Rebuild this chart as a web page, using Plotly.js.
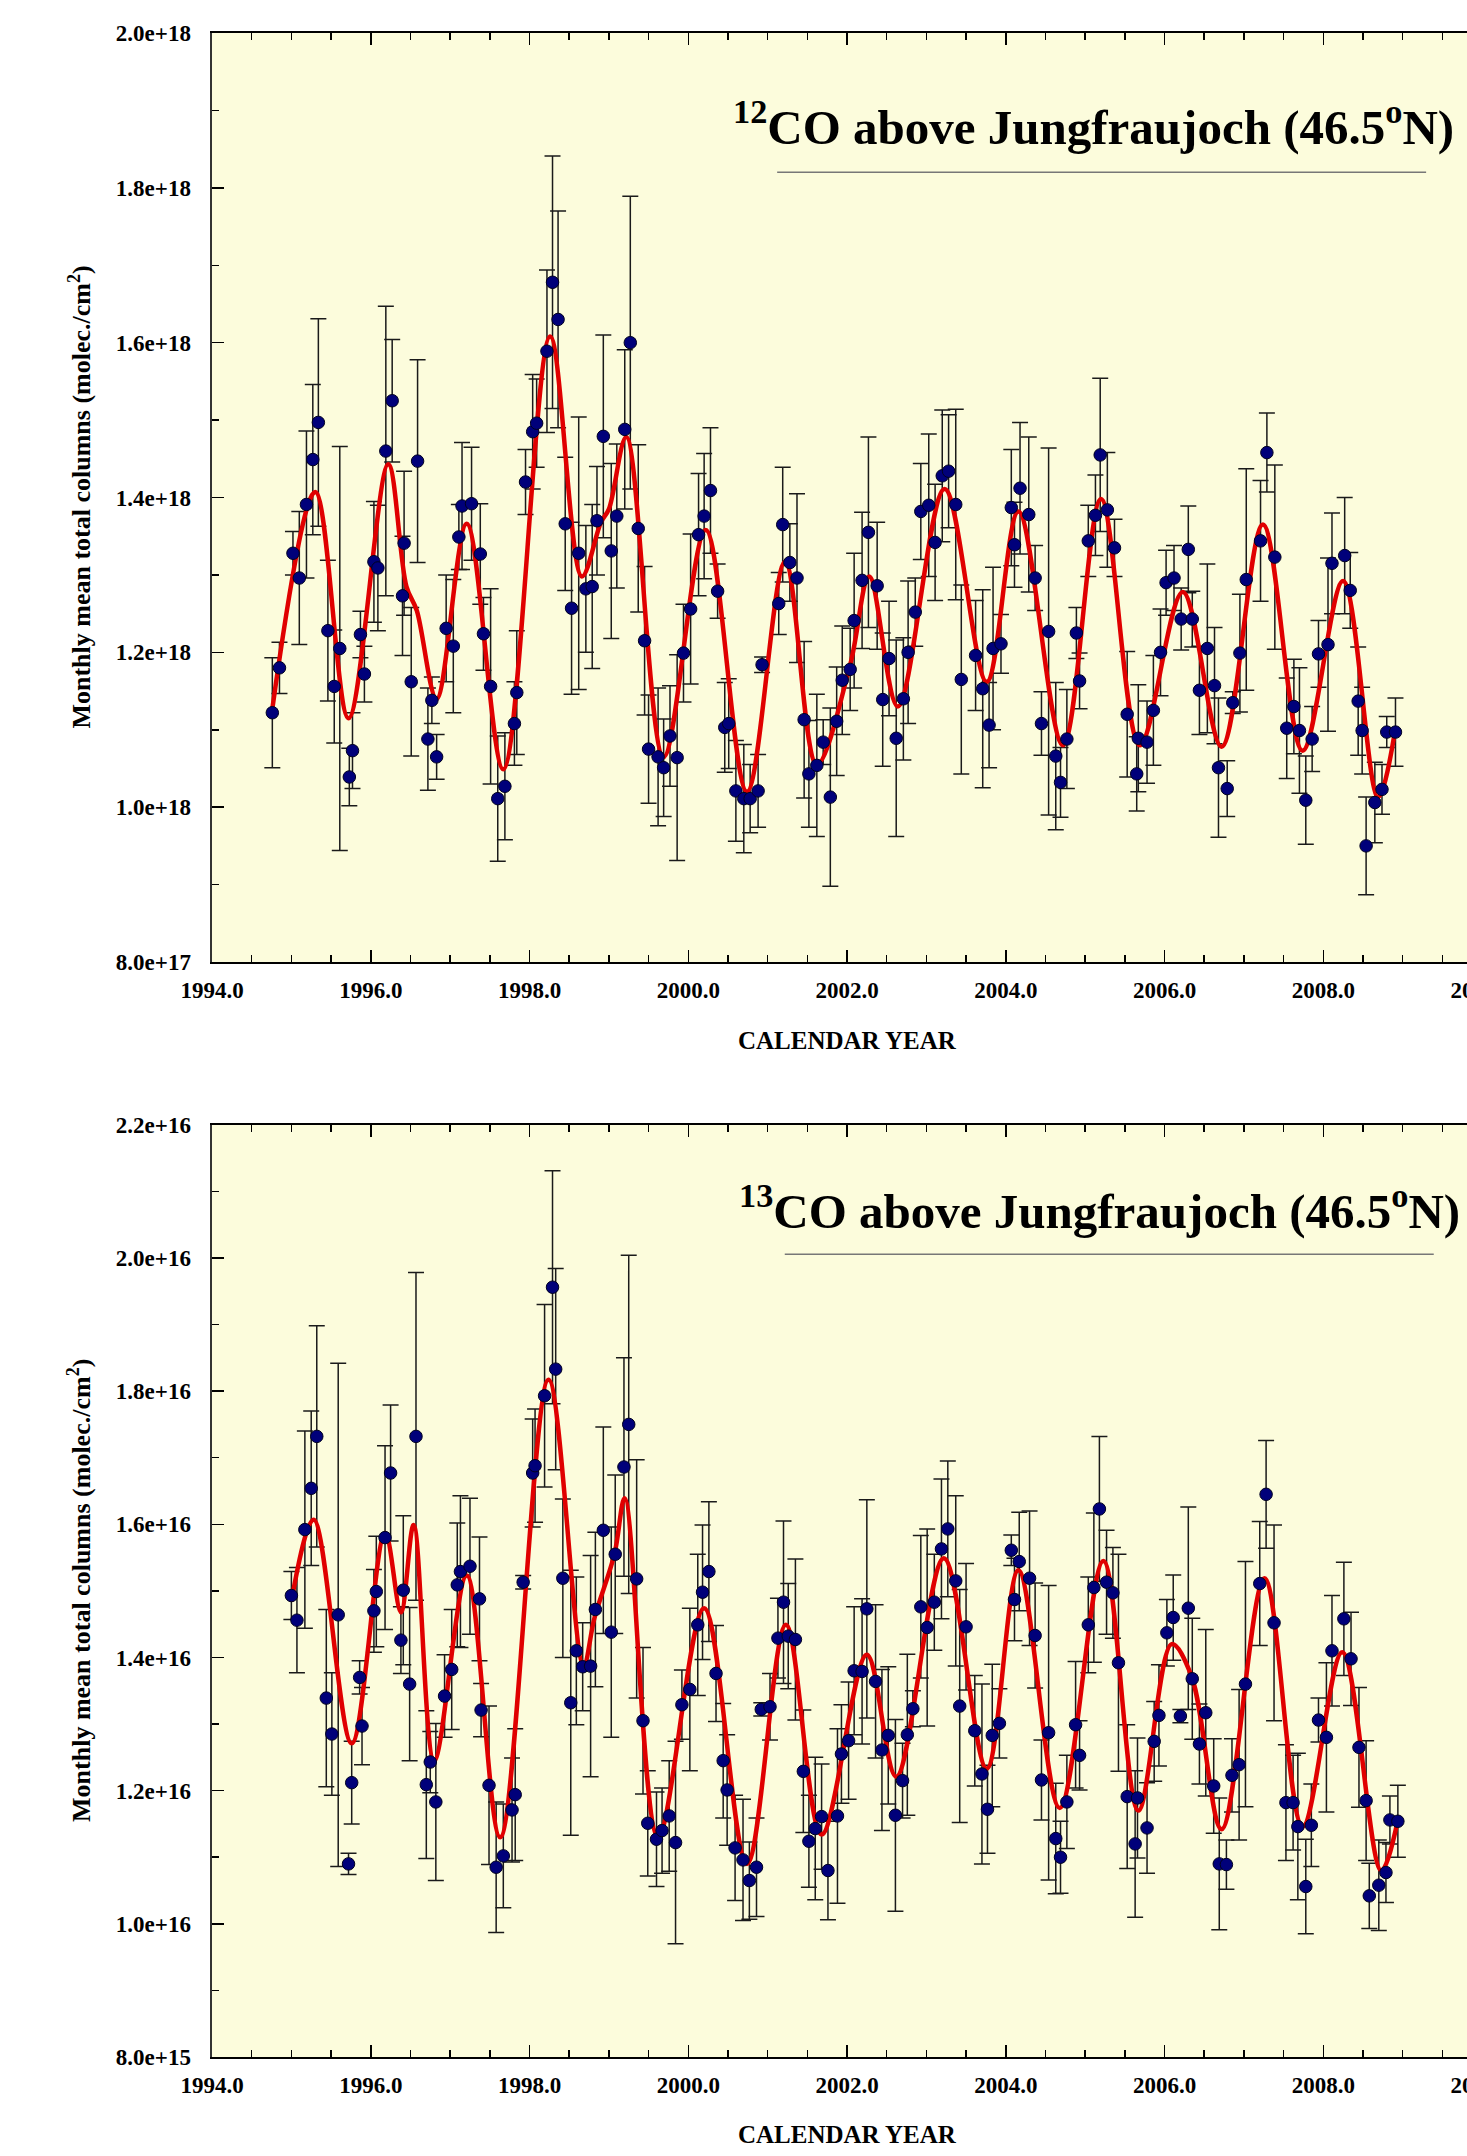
<!DOCTYPE html>
<html><head><meta charset="utf-8">
<script src="https://cdn.plot.ly/plotly-3.0.1.min.js"></script>
<style>html,body{margin:0;padding:0;overflow:hidden;background:#fff;width:1467px;height:2156px}#chart{width:1600px;height:2156px}</style>
</head><body><div id="chart"></div><script>
// ---- 12CO monthly means (units of 1e18 molec/cm2) ----
const co12_year = [1994.76,1994.85,1995.02,1995.10,1995.19,1995.27,1995.34,1995.46,1995.54,1995.61,
1995.73,1995.77,1995.87,1995.92,1996.04,1996.09,1996.19,1996.27,1996.40,1996.42,
1996.51,1996.59,1996.72,1996.77,1996.83,1996.95,1997.04,1997.11,1997.15,1997.27,
1997.38,1997.42,1997.51,1997.60,1997.69,1997.81,1997.84,1997.95,1998.04,1998.09,
1998.22,1998.29,1998.36,1998.45,1998.53,1998.62,1998.71,1998.79,1998.85,1998.93,
1999.03,1999.10,1999.20,1999.27,1999.37,1999.45,1999.50,1999.62,1999.69,1999.77,
1999.86,1999.94,2000.03,2000.13,2000.20,2000.28,2000.37,2000.46,2000.51,2000.60,
2000.70,2000.78,2000.88,2000.93,2001.14,2001.19,2001.28,2001.37,2001.46,2001.52,
2001.62,2001.70,2001.79,2001.87,2001.94,2002.04,2002.09,2002.19,2002.27,2002.38,
2002.45,2002.53,2002.62,2002.71,2002.77,2002.86,2002.93,2003.03,2003.11,2003.20,
2003.28,2003.37,2003.44,2003.62,2003.71,2003.79,2003.84,2003.94,2004.07,2004.11,
2004.18,2004.29,2004.37,2004.45,2004.54,2004.63,2004.69,2004.77,2004.89,2004.93,
2005.04,2005.13,2005.19,2005.28,2005.37,2005.53,2005.65,2005.67,2005.78,2005.86,
2005.95,2006.02,2006.12,2006.21,2006.30,2006.35,2006.44,2006.54,2006.63,2006.68,
2006.79,2006.86,2006.95,2007.03,2007.21,2007.29,2007.39,2007.54,2007.63,2007.70,
2007.78,2007.86,2007.94,2008.06,2008.11,2008.27,2008.34,2008.44,2008.49,2008.54,
2008.65,2008.74,2008.80,2008.91];
const co12_value = [1.122,1.180,1.328,1.296,1.391,1.449,1.497,1.228,1.156,1.205,
1.039,1.073,1.223,1.172,1.317,1.309,1.460,1.525,1.273,1.341,
1.162,1.447,1.088,1.138,1.065,1.231,1.208,1.349,1.389,1.392,
1.327,1.224,1.156,1.011,1.027,1.108,1.148,1.420,1.485,1.496,
1.589,1.678,1.630,1.366,1.257,1.328,1.282,1.285,1.370,1.479,
1.331,1.376,1.488,1.600,1.360,1.215,1.075,1.065,1.051,1.092,
1.064,1.199,1.256,1.352,1.376,1.409,1.279,1.103,1.108,1.021,
1.011,1.011,1.021,1.184,1.263,1.365,1.316,1.296,1.113,1.043,
1.054,1.084,1.013,1.111,1.164,1.178,1.241,1.293,1.355,1.286,
1.139,1.192,1.089,1.140,1.200,1.252,1.382,1.390,1.342,1.428,
1.434,1.391,1.165,1.196,1.153,1.106,1.205,1.211,1.387,1.339,
1.412,1.378,1.296,1.108,1.227,1.066,1.032,1.088,1.225,1.163,
1.344,1.377,1.455,1.384,1.335,1.120,1.043,1.089,1.084,1.125,
1.200,1.290,1.296,1.243,1.333,1.243,1.151,1.205,1.157,1.051,
1.024,1.135,1.199,1.294,1.344,1.458,1.323,1.102,1.130,1.099,
1.009,1.088,1.198,1.210,1.315,1.325,1.280,1.137,1.099,0.950,
1.006,1.023,1.097,1.097];
const co12_error = [0.071,0.033,0.028,0.086,0.095,0.097,0.134,0.091,0.073,0.261,
0.037,0.049,0.030,0.036,0.078,0.081,0.187,0.079,0.077,0.093,
0.096,0.131,0.066,0.030,0.029,0.069,0.086,0.042,0.082,0.073,
0.065,0.047,0.126,0.081,0.069,0.054,0.080,0.042,0.074,0.057,
0.105,0.163,0.140,0.086,0.111,0.176,0.082,0.106,0.070,0.131,
0.113,0.093,0.103,0.189,0.108,0.096,0.070,0.089,0.063,0.065,
0.133,0.063,0.097,0.079,0.081,0.081,0.035,0.058,0.058,0.065,
0.070,0.044,0.047,0.010,0.040,0.074,0.050,0.109,0.101,0.069,
0.092,0.029,0.115,0.070,0.070,0.053,0.087,0.088,0.123,0.082,
0.086,0.074,0.127,0.079,0.092,0.044,0.062,0.092,0.075,0.085,
0.073,0.123,0.122,0.071,0.128,0.055,0.105,0.038,0.075,0.055,
0.085,0.100,0.042,0.041,0.237,0.095,0.045,0.064,0.033,0.036,
0.046,0.052,0.099,0.074,0.037,0.081,0.048,0.069,0.053,0.071,
0.056,0.042,0.042,0.040,0.056,0.036,0.057,0.109,0.075,0.090,
0.036,0.014,0.076,0.143,0.078,0.051,0.119,0.065,0.061,0.081,
0.057,0.042,0.043,0.112,0.065,0.075,0.049,0.070,0.056,0.063,
0.052,0.032,0.020,0.044];
// fitted curve, read at its turning points
const co12_fit_year = [1994.76,1995.30,1995.72,1996.22,1996.45,1996.58,1996.83,1997.21,1997.67,1998.26,1998.66,1998.90,1999.00,1999.22,1999.69,2000.22,2000.74,2001.22,2001.62,2002.04,2002.28,2002.64,2003.23,2003.76,2004.16,2004.72,2005.20,2005.69,2006.23,2006.72,2007.24,2007.74,2008.25,2008.69,2008.91];
const co12_fit_value = [1.127,1.407,1.115,1.443,1.285,1.254,1.140,1.366,1.049,1.608,1.298,1.368,1.385,1.478,1.065,1.358,1.020,1.317,1.055,1.184,1.298,1.130,1.411,1.162,1.382,1.080,1.398,1.080,1.278,1.078,1.365,1.073,1.292,1.013,1.102];

// ---- 13CO monthly means (units of 1e16 molec/cm2) ----
const co13_year = [1995.00,1995.07,1995.17,1995.25,1995.32,1995.44,1995.51,1995.59,1995.72,1995.76,
1995.86,1995.89,1996.04,1996.07,1996.18,1996.25,1996.38,1996.41,1996.49,1996.57,
1996.70,1996.75,1996.82,1996.93,1997.02,1997.09,1997.13,1997.25,1997.37,1997.39,
1997.49,1997.58,1997.67,1997.78,1997.82,1997.92,1998.04,1998.07,1998.19,1998.29,
1998.33,1998.42,1998.52,1998.59,1998.67,1998.77,1998.83,1998.93,1999.03,1999.08,
1999.19,1999.25,1999.35,1999.43,1999.49,1999.60,1999.67,1999.76,1999.84,1999.92,
2000.02,2000.12,2000.18,2000.26,2000.35,2000.44,2000.49,2000.59,2000.69,2000.77,
2000.86,2000.92,2001.03,2001.13,2001.20,2001.26,2001.35,2001.45,2001.52,2001.60,
2001.68,2001.76,2001.88,2001.93,2002.02,2002.09,2002.19,2002.25,2002.36,2002.44,
2002.52,2002.61,2002.70,2002.76,2002.83,2002.93,2003.01,2003.10,2003.19,2003.27,
2003.37,2003.42,2003.50,2003.61,2003.70,2003.77,2003.83,2003.92,2004.07,2004.11,
2004.17,2004.30,2004.37,2004.45,2004.54,2004.63,2004.69,2004.77,2004.88,2004.93,
2005.04,2005.11,2005.18,2005.27,2005.35,2005.42,2005.53,2005.63,2005.66,2005.78,
2005.87,2005.93,2006.03,2006.11,2006.20,2006.30,2006.35,2006.44,2006.52,2006.62,
2006.69,2006.78,2006.85,2006.94,2007.02,2007.20,2007.28,2007.38,2007.53,2007.62,
2007.68,2007.78,2007.85,2007.94,2008.04,2008.11,2008.26,2008.35,2008.45,2008.54,
2008.58,2008.70,2008.79,2008.84,2008.94];
const co13_value = [1.493,1.456,1.592,1.654,1.732,1.339,1.285,1.464,1.090,1.212,
1.370,1.297,1.470,1.499,1.580,1.677,1.426,1.501,1.360,1.732,
1.209,1.243,1.183,1.342,1.382,1.509,1.529,1.537,1.488,1.321,
1.208,1.085,1.102,1.171,1.194,1.513,1.677,1.688,1.793,1.956,
1.833,1.519,1.332,1.410,1.386,1.387,1.472,1.591,1.438,1.555,
1.686,1.750,1.518,1.305,1.151,1.127,1.140,1.162,1.122,1.329,
1.352,1.449,1.498,1.529,1.376,1.245,1.201,1.114,1.096,1.065,
1.085,1.322,1.326,1.429,1.483,1.432,1.427,1.229,1.124,1.143,
1.161,1.080,1.162,1.255,1.275,1.380,1.379,1.473,1.364,1.261,
1.283,1.163,1.215,1.284,1.323,1.476,1.445,1.483,1.563,1.593,
1.515,1.327,1.446,1.290,1.225,1.172,1.283,1.301,1.561,1.487,
1.544,1.519,1.433,1.216,1.287,1.128,1.100,1.183,1.299,1.253,
1.449,1.505,1.623,1.513,1.497,1.392,1.191,1.120,1.189,1.144,
1.274,1.313,1.437,1.460,1.312,1.474,1.368,1.270,1.317,1.207,
1.090,1.089,1.223,1.239,1.360,1.511,1.645,1.452,1.182,1.182,
1.146,1.056,1.148,1.306,1.280,1.410,1.458,1.398,1.265,1.185,
1.042,1.058,1.077,1.156,1.154];
const co13_error = [0.036,0.079,0.148,0.116,0.166,0.133,0.092,0.378,0.016,0.062,
0.025,0.058,0.062,0.083,0.138,0.102,0.050,0.112,0.115,0.246,
0.111,0.046,0.118,0.062,0.090,0.093,0.114,0.102,0.093,0.040,
0.119,0.098,0.078,0.078,0.099,0.010,0.081,0.085,0.137,0.175,
0.151,0.119,0.199,0.111,0.066,0.166,0.116,0.155,0.158,0.119,
0.164,0.254,0.179,0.110,0.079,0.071,0.064,0.083,0.152,0.052,
0.122,0.106,0.101,0.105,0.072,0.086,0.083,0.079,0.091,0.058,
0.074,0.010,0.050,0.060,0.122,0.079,0.121,0.092,0.069,0.107,
0.079,0.074,0.131,0.074,0.088,0.096,0.109,0.164,0.115,0.121,
0.103,0.144,0.056,0.121,0.027,0.107,0.148,0.072,0.105,0.102,
0.128,0.175,0.095,0.083,0.135,0.066,0.107,0.052,0.023,0.062,
0.074,0.101,0.079,0.060,0.221,0.083,0.054,0.070,0.095,0.052,
0.072,0.112,0.109,0.078,0.068,0.163,0.108,0.110,0.090,0.068,
0.060,0.076,0.050,0.064,0.010,0.152,0.091,0.060,0.125,0.071,
0.099,0.037,0.055,0.113,0.184,0.093,0.081,0.147,0.087,0.071,
0.110,0.071,0.062,0.033,0.112,0.083,0.085,0.070,0.090,0.090,
0.049,0.068,0.045,0.036,0.054];
const co13_fit_year = [1995.00,1995.28,1995.76,1996.18,1996.38,1996.54,1996.80,1997.21,1997.63,1998.24,1998.68,1998.82,1999.07,1999.20,1999.62,2000.20,2000.74,2001.23,2001.68,2002.25,2002.62,2003.22,2003.76,2004.16,2004.68,2005.23,2005.67,2006.09,2006.34,2006.72,2007.26,2007.74,2008.24,2008.73,2008.94];
const co13_fit_value = [1.484,1.607,1.271,1.587,1.468,1.599,1.245,1.523,1.130,1.817,1.388,1.460,1.555,1.639,1.130,1.474,1.090,1.449,1.134,1.404,1.221,1.549,1.233,1.531,1.174,1.545,1.170,1.420,1.372,1.142,1.519,1.146,1.408,1.080,1.156];

const SCALE12 = 1e18, SCALE13 = 1e16;
const scale = (arr, s) => arr.map(v => v * s);

const SERIF = 'Liberation Serif, Times New Roman, serif';
const MARK = {color: '#00007A', size: 12.5, line: {color: '#000020', width: 1}};
const ERR = {color: '#1a1a1a', thickness: 1.5, width: 8};
const FIT = {color: '#E00000', width: 4.5, shape: 'spline', smoothing: 1};

function group(year, val, err, fy, fv, s, xa, ya) {
  return [
    {type: 'scatter', mode: 'markers', x: year, y: scale(val, s), xaxis: xa, yaxis: ya,
     marker: {size: 12, opacity: 0}, hoverinfo: 'skip',
     error_y: Object.assign({type: 'data', array: scale(err, s), visible: true}, ERR)},
    {type: 'scatter', mode: 'lines', x: fy, y: scale(fv, s), xaxis: xa, yaxis: ya, line: FIT},
    {type: 'scatter', mode: 'markers', x: year, y: scale(val, s), xaxis: xa, yaxis: ya, marker: MARK}
  ];
}

const data = [].concat(
  group(co12_year, co12_value, co12_error, co12_fit_year, co12_fit_value, SCALE12, 'x', 'y'),
  group(co13_year, co13_value, co13_error, co13_fit_year, co13_fit_value, SCALE13, 'x2', 'y2')
);

const tickFont = {family: SERIF, size: 23, color: '#000', weight: 'bold'};
function xAxis(anchor) {
  return {anchor: anchor, domain: [0, 1], range: [1994, 2010], tick0: 1994, dtick: 2, tickformat: '.1f',
    ticks: 'inside', ticklen: 12, tickwidth: 1.5, tickcolor: '#000',
    minor: {dtick: 0.5, tick0: 1994, ticks: 'inside', ticklen: 7, tickwidth: 1.5, tickcolor: '#000', showgrid: false},
    showline: true, linecolor: '#000', linewidth: 2, mirror: 'ticks',
    showgrid: false, zeroline: false, tickfont: tickFont, ticklabelstandoff: 6};
}
function yAxis(anchor, domain, range, dtick) {
  return {anchor: anchor, domain: domain, range: range, dtick: dtick, tick0: range[0], tickformat: '.1e',
    ticks: 'inside', ticklen: 12, tickwidth: 1.5, tickcolor: '#000',
    minor: {dtick: dtick / 2, ticks: 'inside', ticklen: 7, tickwidth: 1.5, tickcolor: '#000', showgrid: false},
    showline: true, linecolor: '#333', linewidth: 2.5, mirror: 'ticks',
    showgrid: false, zeroline: false, tickfont: tickFont, ticklabelstandoff: 14};
}

const titleFont = {family: SERIF, size: 49, color: '#000', weight: 'bold'};
const axTitleFont = {family: SERIF, size: 25, color: '#000', weight: 'bold'};
const yTitleFont = {family: SERIF, size: 26, color: '#000', weight: 'bold'};
const ytitle = 'Monthly mean total columns (molec./cm<sup>2</sup>)';

const layout = {
  width: 1600, height: 2156,
  margin: {l: 212, r: 118, t: 33, b: 99},
  paper_bgcolor: '#ffffff', plot_bgcolor: '#FCFCDC',
  showlegend: false, hovermode: false,
  xaxis: xAxis('y'),
  yaxis: yAxis('x', [0.541, 1], [0.8e18, 2.0e18], 0.2e18),
  xaxis2: xAxis('y2'),
  yaxis2: yAxis('x2', [0, 0.4606], [0.8e16, 2.2e16], 0.2e16),
  annotations: [
    {xref: 'x domain', yref: 'y domain', x: 0.694, y: 0.903, xanchor: 'center', yanchor: 'middle', showarrow: false,
     text: '<sup>12</sup>CO above Jungfraujoch (46.5<sup>o</sup>N)', font: titleFont},
    {xref: 'x2 domain', yref: 'y2 domain', x: 0.699, y: 0.911, xanchor: 'center', yanchor: 'middle', showarrow: false,
     text: '<sup>13</sup>CO above Jungfraujoch (46.5<sup>o</sup>N)', font: titleFont},
    {xref: 'x domain', yref: 'y domain', x: 0.5, y: -0.085, xanchor: 'center', yanchor: 'middle', showarrow: false,
     text: 'CALENDAR YEAR', font: axTitleFont},
    {xref: 'x2 domain', yref: 'y2 domain', x: 0.5, y: -0.0826, xanchor: 'center', yanchor: 'middle', showarrow: false,
     text: 'CALENDAR YEAR', font: axTitleFont},
    {xref: 'x domain', yref: 'y domain', x: -0.1039, y: 0.5, xanchor: 'center', yanchor: 'middle', showarrow: false,
     textangle: -90, text: ytitle, font: yTitleFont},
    {xref: 'x2 domain', yref: 'y2 domain', x: -0.1039, y: 0.5, xanchor: 'center', yanchor: 'middle', showarrow: false,
     textangle: -90, text: ytitle, font: yTitleFont}
  ],
  shapes: [
    {type: 'line', xref: 'x domain', yref: 'y domain', x0: 0.445, x1: 0.956, y0: 0.850, y1: 0.850, line: {color: '#777', width: 1.5}},
    {type: 'line', xref: 'x2 domain', yref: 'y2 domain', x0: 0.451, x1: 0.962, y0: 0.861, y1: 0.861, line: {color: '#777', width: 1.5}}
  ]
};

Plotly.newPlot('chart', data, layout, {displayModeBar: false, staticPlot: true});
</script></body></html>
